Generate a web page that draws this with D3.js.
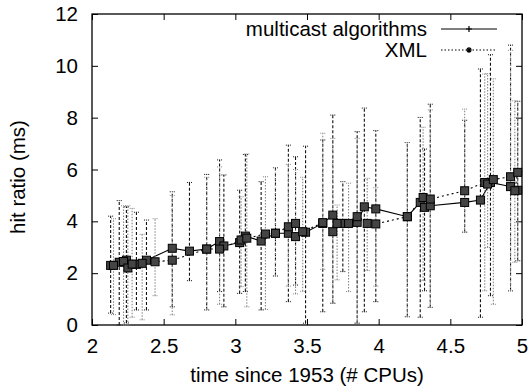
<!DOCTYPE html>
<html>
<head>
<meta charset="utf-8">
<script src="https://cdn.jsdelivr.net/npm/d3@7"></script>
<style>
  body { margin: 0; background: #fff; }
  text { font-family: "Liberation Sans", Arial, sans-serif; }
</style>
</head>
<body>
<div id="vis"></div>
<script>
// multicast algorithms: x, y, low, high
let mcX    = [2.13, 2.19, 2.24, 2.31, 2.38, 2.56, 2.68, 2.80, 2.89, 2.92, 3.03, 3.07, 3.18, 3.28, 3.37, 3.42, 3.49, 3.61, 3.68, 3.75, 3.85, 3.90, 3.98, 4.20, 4.29, 4.32, 4.36, 4.60, 4.71, 4.78, 4.92, 4.97];
let mcY    = [2.30, 2.42, 2.50, 2.34, 2.50, 2.96, 2.85, 2.93, 3.22, 3.05, 3.18, 3.43, 3.24, 3.54, 3.54, 3.41, 3.58, 3.92, 4.24, 3.92, 3.96, 4.56, 4.48, 4.18, 4.73, 4.54, 4.60, 4.73, 4.82, 5.50, 5.34, 5.20];
let mcLow  = [0.46, 0.00, 0.08, 0.58, 0.58, 0.70, 1.71, 0.58, 1.29, 0.70, 1.22, 1.29, 0.58, 1.89, 0.90, 1.54, 0.07, 0.51, 0.84, 2.06, 0.07, 0.51, 0.90, 0.32, 0.30, 1.32, 0.68, 3.58, 0.30, 1.13, 1.32, 2.48];
let mcHigh = [4.20, 4.80, 4.56, 4.35, 4.05, 5.14, 5.50, 5.81, 6.37, 5.79, 5.20, 6.58, 5.53, 6.07, 6.94, 6.49, 6.90, 7.14, 8.10, 5.53, 7.46, 8.37, 7.50, 7.04, 8.01, 6.79, 8.52, 7.90, 9.88, 10.43, 10.80, 8.63];

// XML: x, y, low, high
let xmlX    = [2.15, 2.22, 2.25, 2.28, 2.35, 2.44, 2.56, 2.80, 2.89, 3.04, 3.08, 3.21, 3.28, 3.37, 3.42, 3.47, 3.61, 3.68, 3.71, 3.79, 3.85, 3.92, 3.98, 4.20, 4.31, 4.36, 4.60, 4.74, 4.76, 4.80, 4.92, 4.95, 4.97];
let xmlY    = [2.30, 2.45, 2.20, 2.35, 2.38, 2.44, 2.50, 2.93, 2.93, 3.28, 3.35, 3.51, 3.54, 3.79, 3.92, 3.60, 3.95, 3.60, 3.92, 3.92, 4.18, 3.92, 3.90, 4.18, 4.92, 4.86, 5.18, 5.50, 5.44, 5.61, 5.72, 5.18, 5.89];
let xmlLow  = [0.40, 0.00, 0.00, 0.30, 0.20, 1.13, 0.39, 0.60, 0.80, 1.48, 0.70, 0.60, 1.89, 1.50, 1.20, 1.30, 2.15, 0.84, 1.74, 1.29, 0.07, 2.10, 1.50, 0.32, 1.71, 0.68, 3.58, 1.32, 2.99, 0.80, 1.32, 2.42, 2.48];
let xmlHigh = [4.10, 4.60, 4.60, 4.50, 3.50, 4.10, 5.00, 5.70, 6.10, 4.95, 6.60, 5.72, 6.07, 6.20, 6.00, 5.70, 7.40, 7.20, 4.63, 5.47, 7.20, 5.66, 5.30, 7.04, 7.63, 8.30, 8.33, 9.68, 9.70, 9.50, 10.60, 8.65, 8.63];

let xTicks = [2, 2.5, 3, 3.5, 4, 4.5, 5];
let yTicks = [0, 2, 4, 6, 8, 10, 12];
let seriesNames = ['multicast algorithms', 'XML'];

const W = 531, H = 389;
const pLeft = 92, pRight = 522, pTop = 14, pBottom = 325;
const fs = 20.5;

let svg = d3.select('#vis').append('svg').attr('width', W).attr('height', H);

let x = d3.scaleLinear().domain([2, 5]).range([pLeft, pRight]);
let y = d3.scaleLinear().domain([0, 12]).range([pBottom, pTop]);

// axes, ticks inward on all four sides
let tick = 6;
svg.append('g').attr('transform', `translate(0,${pBottom})`)
    .call(d3.axisBottom(x).tickValues(xTicks).tickSize(-tick).tickPadding(13).tickFormat(d3.format('')));
svg.append('g').attr('transform', `translate(0,${pTop})`)
    .call(d3.axisTop(x).tickValues(xTicks).tickSize(-tick).tickFormat(''));
svg.append('g').attr('transform', `translate(${pLeft},0)`)
    .call(d3.axisLeft(y).tickValues(yTicks).tickSize(-tick).tickPadding(14));
svg.append('g').attr('transform', `translate(${pRight},0)`)
    .call(d3.axisRight(y).tickValues(yTicks).tickSize(-tick).tickFormat(''));
svg.selectAll('.domain').remove();
svg.selectAll('.tick line').attr('stroke', '#000');
svg.selectAll('.tick text').attr('font-size', fs).attr('fill', '#000')
    .style('font-family', '"Liberation Sans", Arial, sans-serif');

svg.append('rect').attr('x', pLeft).attr('y', pTop)
    .attr('width', pRight - pLeft).attr('height', pBottom - pTop)
    .attr('fill', 'none').attr('stroke', '#000').attr('stroke-width', 1.3);

function drawSeries(xs, ys, lo, hi, barColor, barDash, lineDash) {
    let data = xs.map((d, i) => ({x: d, y: ys[i], lo: lo[i], hi: hi[i]}));
    let g = svg.append('g');
    data.forEach(d => {
        g.append('line').attr('x1', x(d.x)).attr('x2', x(d.x))
            .attr('y1', y(d.lo)).attr('y2', y(d.hi))
            .attr('stroke', barColor).attr('stroke-width', 1.1).attr('stroke-dasharray', barDash);
        [d.lo, d.hi].forEach(v => {
            g.append('line').attr('x1', x(d.x) - 2.5).attr('x2', x(d.x) + 2.5)
                .attr('y1', y(v)).attr('y2', y(v))
                .attr('stroke', barColor).attr('stroke-width', 1).attr('stroke-dasharray', '1,1');
        });
    });
    g.append('path').datum(data)
        .attr('d', d3.line().x(d => x(d.x)).y(d => y(d.y)))
        .attr('fill', 'none').attr('stroke', '#000').attr('stroke-width', 1.1)
        .attr('stroke-dasharray', lineDash);
    return data;
}

let mc = drawSeries(mcX, mcY, mcLow, mcHigh, '#111', '3,2', null);
let xml = drawSeries(xmlX, xmlY, xmlLow, xmlHigh, '#888', '1.5,1.5', '2,3');

// markers
svg.append('g').selectAll('rect').data(mc.concat(xml)).join('rect')
    .attr('x', d => x(d.x) - 4).attr('y', d => y(d.y) - 4)
    .attr('width', 8).attr('height', 8)
    .attr('fill', '#444').attr('stroke', '#000').attr('stroke-width', 1);

// legend
let leg = svg.append('g');
[0, 1].forEach(i => {
    let ly = 29 + i * 21;
    leg.append('text').attr('x', 427).attr('y', ly + 7).attr('text-anchor', 'end')
        .attr('font-size', fs).text(seriesNames[i]);
    leg.append('line').attr('x1', 441).attr('x2', 497).attr('y1', ly).attr('y2', ly)
        .attr('stroke', i === 0 ? '#555' : '#000').attr('stroke-width', i === 0 ? 1.5 : 1)
        .attr('stroke-dasharray', i === 0 ? null : '1.5,2');
});
leg.append('path').attr('d', 'M466,29h6M469,26v6').attr('stroke', '#000').attr('stroke-width', 1.2);
leg.append('path').attr('d', 'M466,50h6M469,47v6M467,48l4,4M471,48l-4,4')
    .attr('stroke', '#000').attr('stroke-width', 1.2);

// axis titles
svg.append('text').attr('x', (pLeft + pRight) / 2).attr('y', 382).attr('text-anchor', 'middle')
    .attr('font-size', fs).text('time since 1953 (# CPUs)');
svg.append('text').attr('transform', 'translate(25,177) rotate(-90)')
    .attr('text-anchor', 'middle').attr('font-size', fs).text('hit ratio (ms)');
</script>
</body>
</html>
